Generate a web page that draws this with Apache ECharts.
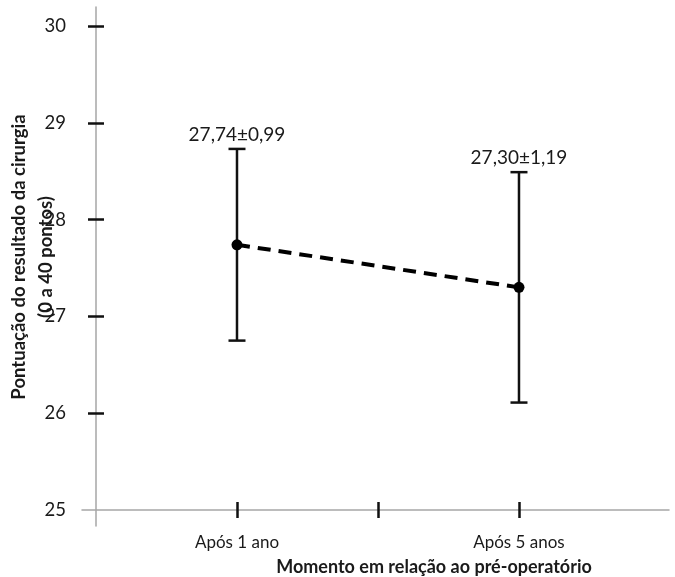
<!DOCTYPE html>
<html><head><meta charset="utf-8">
<script src="https://cdn.jsdelivr.net/npm/echarts@6/dist/echarts.min.js"></script>
<style>html,body{margin:0;padding:0;background:#fff}#c{width:675px;height:577px}</style>
</head><body><div id="c"></div>
<script>
const categories = ['Após 1 ano', 'Após 5 anos'];
const categoryPositions = [1, 3];
const means = [27.74, 27.30];
const sds = [0.99, 1.19];
const meanLabels = ['27,74±0,99', '27,30±1,19'];
const xTickValues = [1, 2, 3];
const yTickValues = [26, 27, 28, 29, 30];
const yLabelValues = [25, 26, 27, 28, 29, 30];
const xTitle = 'Momento em relação ao pré-operatório';
const yTitle = 'Pontuação do resultado da cirurgia\n(0 a 40 pontos)';

const FONT = 'Lato';
const X_MIN = -0.0993, X_MAX = 4.064;
const Y_MIN = 24.835, Y_MAX = 30.196;

const chart = echarts.init(document.getElementById('c'), null, {renderer: 'canvas'});

const pointData = categoryPositions.map((x, i) => [x, means[i]]);
const errData = categoryPositions.map((x, i) => [x, means[i] - sds[i], means[i] + sds[i], i]);

const tickStyle = {color: '#111', width: 2.5};
const axisLineStyle = {color: '#a6a6a6', width: 1.5};

const option = {
  animation: false,
  backgroundColor: '#fff',
  grid: {left: 82, right: 6, top: 7, bottom: 51, containLabel: false, outerBoundsMode: 'none'},
  xAxis: [
    {
      type: 'value', position: 'bottom', offset: -16, min: X_MIN, max: X_MAX,
      axisLine: {show: true, onZero: false, lineStyle: axisLineStyle},
      axisTick: {show: true, inside: false, length: 8, customValues: xTickValues, lineStyle: tickStyle},
      axisLabel: {
        show: true, customValues: categoryPositions, margin: 24,
        color: '#1a1a1a', fontFamily: FONT, fontSize: 17,
        formatter: v => { const i = categoryPositions.indexOf(v); return i >= 0 ? categories[i] : ''; }
      },
      splitLine: {show: false},
      name: xTitle, nameLocation: 'middle', nameGap: 48, nameMoveOverlap: false,
      nameTextStyle: {fontFamily: FONT, fontWeight: 'bold', fontSize: 18, color: '#1a1a1a', padding: [0, 0, 0, 117]}
    },
    {
      type: 'value', position: 'top', offset: -503, min: X_MIN, max: X_MAX,
      axisLine: {show: false, onZero: false},
      axisTick: {show: true, inside: false, length: 8, customValues: xTickValues, lineStyle: tickStyle},
      axisLabel: {show: false}, splitLine: {show: false}
    }
  ],
  yAxis: [
    {
      type: 'value', position: 'left', offset: -14, min: Y_MIN, max: Y_MAX,
      axisLine: {show: true, onZero: false, lineStyle: axisLineStyle},
      axisTick: {show: true, inside: false, length: 8, customValues: yTickValues, lineStyle: tickStyle},
      axisLabel: {show: true, customValues: yLabelValues, margin: 30, color: '#1a1a1a', fontFamily: FONT, fontSize: 18.5},
      splitLine: {show: false},
      name: yTitle, nameLocation: 'middle', nameRotate: 90, nameGap: 36, nameMoveOverlap: false,
      nameTextStyle: {fontFamily: FONT, fontWeight: 'bold', fontSize: 18.5, color: '#1a1a1a', lineHeight: 27, padding: [0, 0, 0, 19]}
    },
    {
      type: 'value', position: 'right', offset: -573, min: Y_MIN, max: Y_MAX,
      axisLine: {show: false, onZero: false},
      axisTick: {show: true, inside: false, length: 8, customValues: yTickValues, lineStyle: tickStyle},
      axisLabel: {show: false}, splitLine: {show: false}
    }
  ],
  series: [
    {
      type: 'custom',
      xAxisIndex: 0, yAxisIndex: 0,
      data: errData,
      z: 2,
      renderItem: (params, api) => {
        const x = api.value(0);
        const lo = api.coord([x, api.value(1)]);
        const hi = api.coord([x, api.value(2)]);
        const idx = api.value(3);
        const cap = 8.5;
        const st = {stroke: '#111', lineWidth: 2.5};
        return {
          type: 'group',
          children: [
            {type: 'line', shape: {x1: lo[0], y1: lo[1], x2: hi[0], y2: hi[1]}, style: st},
            {type: 'line', shape: {x1: hi[0] - cap, y1: hi[1], x2: hi[0] + cap, y2: hi[1]}, style: st},
            {type: 'line', shape: {x1: lo[0] - cap, y1: lo[1], x2: lo[0] + cap, y2: lo[1]}, style: st},
            {type: 'text', x: hi[0], y: hi[1] - 5, style: {
              text: meanLabels[idx], fill: '#1a1a1a', fontFamily: FONT, fontSize: 19,
              align: 'center', verticalAlign: 'bottom'
            }}
          ]
        };
      }
    },
    {
      type: 'line',
      xAxisIndex: 0, yAxisIndex: 0,
      data: pointData,
      z: 3,
      symbol: 'circle', symbolSize: 11,
      itemStyle: {color: '#000'},
      lineStyle: {color: '#000', width: 4, type: [13, 8]}
    }
  ]
};
chart.setOption(option);
</script></body></html>
